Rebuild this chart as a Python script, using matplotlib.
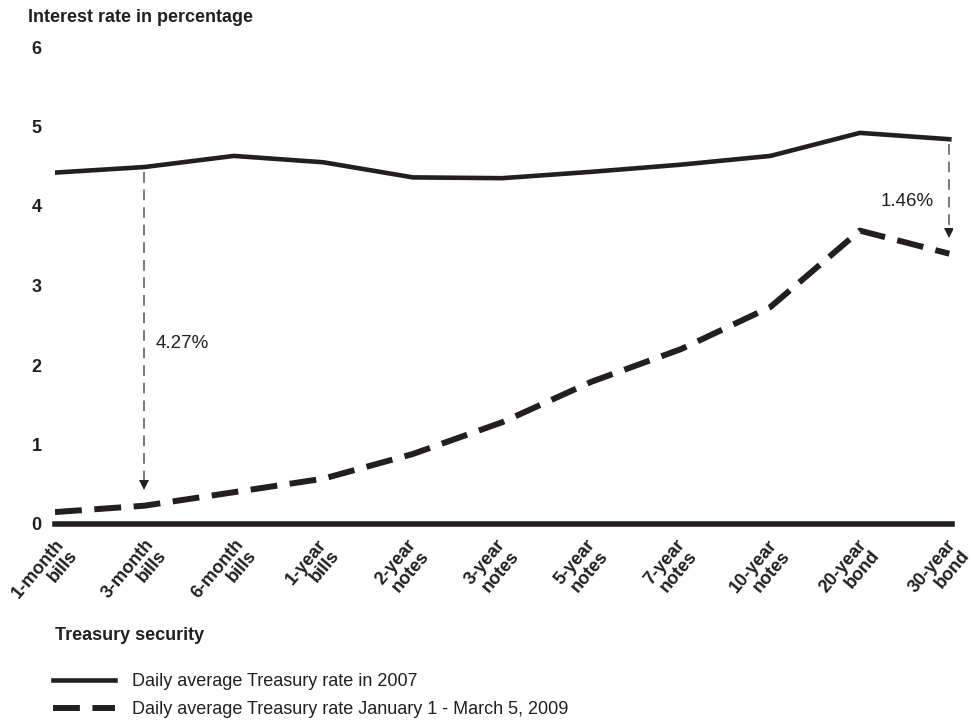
import matplotlib.pyplot as plt
import matplotlib.transforms as mtrans
import numpy as np

# ================ DATA ===================
securities = ['1-month\nbills', '3-month\nbills', '6-month\nbills', '1-year\nbills',
              '2-year\nnotes', '3-year\nnotes', '5-year\nnotes', '7-year\nnotes',
              '10-year\nnotes', '20-year\nbond', '30-year\nbond']
rate_2007 = [4.42, 4.49, 4.63, 4.55, 4.36, 4.35, 4.43, 4.52, 4.63, 4.92, 4.84]
rate_2009 = [0.15, 0.23, 0.40, 0.57, 0.88, 1.28, 1.79, 2.20, 2.73, 3.69, 3.40]
gap_labels = ['4.27%', '1.46%']
gap_index = [1, 10]

plt.rcParams['font.family'] = ['Liberation Sans', 'DejaVu Sans']
ink = '#231f20'
FS = 13

fig = plt.figure(figsize=(9.72, 7.23), dpi=100)
ax = fig.add_axes([55/972, 1-524/723, (952-55)/972, (524-47)/723])

x = np.arange(len(securities))
ax.plot(x, rate_2007, color=ink, lw=3.3, solid_joinstyle='miter', label='Daily average Treasury rate in 2007')
ax.plot(x, rate_2009, color=ink, lw=4.3, dashes=(4.5, 2.1), label='Daily average Treasury rate January 1 - March 5, 2009')
ax.axhline(0, color=ink, lw=4, clip_on=False)

# difference arrows
for i in gap_index:
    top = rate_2007[i] - 0.06
    bot = rate_2009[i] + 0.2
    ax.plot([x[i], x[i]], [top, bot + 0.08], color='#555555', lw=1.1, dashes=(7, 4.5))
    ax.plot(x[i], bot + 0.06, marker='v', color=ink, ms=6.5, mew=0)
ax.text(x[1] + 0.12, 2.27, gap_labels[0], fontsize=13.5, color=ink, va='center', ha='left')
ax.text(x[10] - 0.17, 4.06, gap_labels[1], fontsize=13.5, color=ink, va='center', ha='right')

ax.set_xlim(0, 10.03)
ax.set_ylim(0, 6)
for s in ax.spines.values():
    s.set_visible(False)
ax.set_yticks(range(7))
ax.set_yticklabels([str(v) for v in range(7)], fontsize=FS, fontweight='bold', color=ink, ha='left')
ax.tick_params(axis='y', length=0, pad=17)
ax.set_xticks(x)
ax.set_xticklabels(securities, rotation=50, ha='center', va='top', multialignment='right',
                   fontsize=FS, fontweight='bold', color=ink, linespacing=1.0)
ax.tick_params(axis='x', length=0, pad=9)
shift = mtrans.ScaledTranslation(-0.1, 0, fig.dpi_scale_trans)
for t in ax.get_xticklabels():
    t.set_transform(t.get_transform() + shift)

fig.text(28/972, 1-18/723, 'Interest rate in percentage', fontsize=FS, fontweight='bold', color=ink, va='center')
fig.text(55/972, 1-636/723, 'Treasury security', fontsize=FS, fontweight='bold', color=ink, va='center')

fig.legend(loc='lower left', bbox_to_anchor=(53/972, 1-718/723), frameon=False, fontsize=FS,
           handlelength=3.43, handletextpad=0.95, labelspacing=0.6, labelcolor=ink,
           borderpad=0, borderaxespad=0)

fig.savefig('out.png', dpi=100)
